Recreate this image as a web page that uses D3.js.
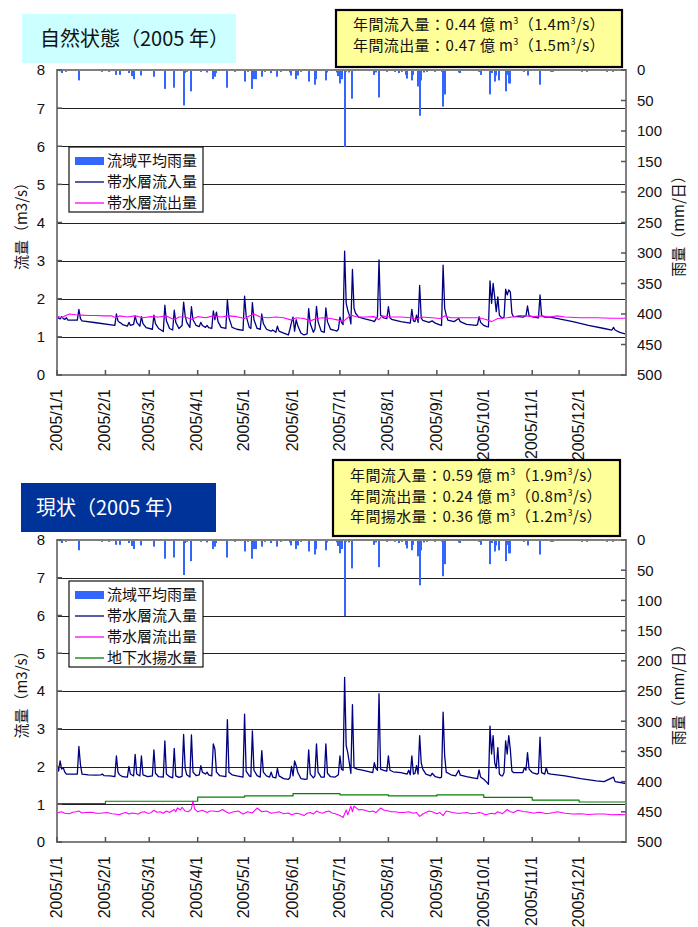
<!DOCTYPE html>
<html><head><meta charset="utf-8">
<script src="https://cdn.jsdelivr.net/npm/d3@7"></script>
<style>
body{margin:0;background:#fff}
svg{display:block}
.num{font-family:"Liberation Sans",Arial,sans-serif}
.jp{font-family:"Noto Sans CJK JP","Noto Sans",sans-serif}
</style>
</head><body>
<svg id="c" width="698" height="927"></svg>
<script>
// ---------------- data ----------------
const tickLabels = ["2005/1/1","2005/2/1","2005/3/1","2005/4/1","2005/5/1","2005/6/1",
  "2005/7/1","2005/8/1","2005/9/1","2005/10/1","2005/11/1","2005/12/1"];
const leftTicks = [0,1,2,3,4,5,6,7,8];
const rightTicks = [0,50,100,150,200,250,300,350,400,450,500];

// daily basin rainfall [day-of-year index, mm/day]
const rainfall = [[2,2],[3,5],[6,3],[14,17],[29,3],[33,3],[34,2],[38,8],[40,8],[46,5],[48,10],[49,15],
 [54,9],[62,11],[69,31],[75,29],[81,58],[82,5],[83,3],[86,35],[92,3],[96,4],[100,15],[101,11],[102,5],
 [109,29],[114,3],[120,19],[122,3],[125,31],[126,15],[127,15],[131,11],[133,3],[137,5],[141,11],[143,3],
 [149,4],[150,9],[153,15],[154,9],[156,3],[161,19],[165,24],[166,15],[172,17],[173,4],[179,4],[180,10],
 [181,22],[182,15],[184,126],[185,3],[187,4],[189,47],[203,8],[204,4],[206,45],[211,3],[216,3],[219,5],
 [221,3],[223,8],[224,14],[227,17],[228,8],[231,27],[232,75],[233,17],[235,4],[237,3],[242,3],[246,3],
 [247,60],[248,40],[257,4],[258,5],[270,3],[271,8],[277,40],[278,5],[280,19],[281,9],[283,17],[287,35],
 [288,8],[289,22],[290,22],[299,3],[301,9],[309,24],[316,3],[317,3],[336,3],[339,3],[352,3],[356,3]];

// natural state: aquifer inflow [day, m3/s]
const natInflow = [[0,1.53],[1,1.49],[2,1.47],[3,1.53],[4,1.48],[5,1.46],[6,1.50],[7,1.44],[13,1.44],[14,1.72],
 [15,1.48],[16,1.42],[25,1.37],[37,1.30],[38,1.60],[39,1.42],[40,1.38],[41,1.36],[42,1.32],[45,1.28],[46,1.38],
 [47,1.30],[49,1.33],[50,1.55],[51,1.38],[53,1.28],[54,1.53],[55,1.35],[57,1.24],[61,1.20],[62,1.57],[63,1.35],
 [65,1.22],[68,1.14],[69,1.83],[70,1.42],[72,1.22],[74,1.18],[75,1.70],[76,1.38],[78,1.22],[80,1.30],[81,1.91],
 [82,1.55],[83,1.38],[85,1.25],[86,1.79],[87,1.45],[89,1.30],[91,1.27],[92,1.38],[93,1.30],[95,1.25],[96,1.30],
 [97,1.24],[99,1.22],[100,1.68],[101,1.45],[102,1.65],[103,1.40],[105,1.25],[108,1.22],[109,1.98],[110,1.50],
 [112,1.25],[115,1.20],[119,1.17],[120,2.07],[121,1.55],[123,1.25],[124,1.22],[125,1.90],[126,1.45],[128,1.22],
 [130,1.20],[131,1.60],[132,1.35],[134,1.20],[137,1.15],[138,1.18],[140,1.12],[141,1.28],[142,1.15],[145,1.10],
 [148,1.05],[149,1.20],[150,1.38],[151,1.52],[152,1.15],[153,1.45],[154,1.30],[156,1.10],[158,1.05],[160,1.08],
 [161,1.74],[162,1.35],[164,1.12],[165,1.20],[166,1.80],[167,1.40],[169,1.15],[171,1.12],[172,1.76],[173,1.40],
 [175,1.20],[177,1.18],[179,1.15],[180,1.20],[181,1.52],[182,1.38],[183,1.32],[184,3.25],[185,1.88],[186,1.70],
 [187,1.57],[188,1.34],[189,2.77],[190,1.75],[191,1.62],[193,1.52],[197,1.47],[202,1.42],[203,1.40],[205,1.53],
 [206,3.02],[207,1.57],[209,1.50],[211,1.48],[212,1.79],[213,1.50],[214,1.46],[220,1.40],[226,1.36],[227,1.72],
 [228,1.42],[229,1.40],[230,1.57],[231,1.38],[232,2.35],[233,1.50],[234,1.43],[238,1.38],[240,1.42],[242,1.36],
 [244,1.33],[246,1.30],[247,2.88],[248,1.75],[249,1.57],[250,1.44],[254,1.40],[257,1.48],[258,1.40],[262,1.33],
 [268,1.30],[269,1.32],[270,1.53],[271,1.38],[273,1.30],[275,1.27],[276,1.26],[277,2.47],[278,1.88],[279,2.40],
 [280,2.05],[281,1.66],[282,2.05],[283,1.57],[284,1.52],[285,1.49],[286,1.52],[287,2.25],[288,2.10],[289,2.23],
 [290,2.18],[291,1.62],[292,1.53],[295,1.53],[298,1.52],[300,1.55],[301,1.81],[302,1.55],[305,1.52],[308,1.50],
 [309,2.10],[310,1.55],[312,1.52],[315,1.52],[318,1.50],[330,1.40],[340,1.30],[350,1.22],[355,1.18],[356,1.25],
 [357,1.18],[360,1.12],[364,1.07]];

// natural state: aquifer outflow
const natOutflow = [[0,1.55],[3,1.50],[5,1.55],[8,1.60],[12,1.58],[16,1.57],[20,1.56],[25,1.56],[30,1.55],[35,1.55],
 [38,1.50],[40,1.55],[45,1.52],[50,1.55],[55,1.50],[60,1.53],[65,1.52],[70,1.55],[75,1.45],[78,1.52],[82,1.52],
 [86,1.46],[90,1.53],[95,1.50],[100,1.55],[105,1.52],[110,1.55],[115,1.53],[120,1.48],[123,1.55],[126,1.60],
 [130,1.52],[135,1.50],[140,1.52],[145,1.50],[150,1.44],[153,1.50],[158,1.48],[162,1.42],[166,1.48],[170,1.50],
 [175,1.48],[180,1.44],[183,1.40],[185,1.47],[188,1.57],[192,1.52],[197,1.52],[203,1.53],[206,1.45],[208,1.55],
 [213,1.52],[220,1.52],[226,1.50],[230,1.46],[233,1.52],[240,1.50],[245,1.48],[248,1.55],[252,1.50],[260,1.50],
 [270,1.50],[275,1.45],[278,1.40],[282,1.48],[288,1.50],[292,1.53],[296,1.56],[300,1.55],[305,1.53],[310,1.55],
 [315,1.52],[320,1.55],[325,1.52],[335,1.50],[345,1.50],[355,1.49],[364,1.49]];

// current state: aquifer inflow
const curInflow = [[0,2.02],[1,1.88],[2,2.15],[3,1.93],[4,1.97],[5,1.85],[6,1.80],[13,1.80],[14,2.53],[15,2.05],
 [16,1.80],[20,1.78],[25,1.77],[28,1.78],[29,1.80],[30,1.76],[34,1.75],[37,1.73],[38,2.28],[39,1.85],[40,1.78],
 [42,1.73],[45,1.72],[46,2.00],[47,1.80],[49,1.75],[50,2.32],[51,1.80],[53,1.75],[54,2.28],[55,1.78],[58,1.73],
 [61,1.75],[62,2.44],[63,1.82],[65,1.73],[68,1.72],[69,2.68],[70,1.80],[72,1.73],[74,1.70],[75,2.48],[76,1.75],
 [78,1.71],[80,1.74],[81,2.85],[82,1.95],[83,1.78],[85,1.72],[86,2.84],[87,1.85],[89,1.76],[91,1.78],[92,2.02],
 [93,1.85],[95,1.80],[96,1.85],[97,1.78],[99,1.75],[100,2.60],[101,2.46],[102,1.85],[104,1.76],[108,1.73],
 [109,3.24],[110,1.85],[112,1.78],[115,1.75],[119,1.72],[120,3.39],[121,1.88],[123,1.75],[124,1.73],[125,2.94],
 [126,1.90],[128,1.76],[130,1.72],[131,2.42],[132,1.85],[134,1.75],[136,1.72],[137,1.85],[138,1.72],[140,1.70],
 [141,1.95],[142,1.75],[145,1.68],[148,1.66],[149,1.70],[150,2.00],[151,1.75],[152,2.15],[153,2.02],[154,1.85],
 [156,1.68],[159,1.66],[160,1.67],[161,2.44],[162,1.80],[164,1.70],[165,1.75],[166,2.60],[167,1.85],[169,1.72],
 [171,1.72],[172,2.60],[173,1.82],[175,1.73],[178,1.72],[180,1.78],[181,2.28],[182,1.93],[183,1.90],[184,4.36],
 [185,2.55],[186,2.37],[187,2.10],[188,1.82],[189,3.64],[190,1.97],[192,1.93],[196,1.90],[200,1.86],[202,1.84],
 [203,2.10],[204,1.95],[205,1.90],[206,3.93],[207,1.93],[209,1.90],[211,1.88],[212,2.28],[213,1.90],[215,1.86],
 [220,1.84],[224,1.80],[225,1.90],[226,1.78],[227,2.28],[228,1.80],[229,1.82],[230,2.02],[231,1.80],[232,2.82],
 [233,2.10],[234,1.93],[236,1.80],[239,1.75],[240,1.82],[242,1.73],[245,1.70],[246,1.72],[247,3.44],[248,2.28],
 [249,1.85],[252,1.78],[255,1.75],[257,1.90],[258,1.77],[262,1.73],[266,1.70],[269,1.68],[270,1.91],[271,1.72],
 [273,1.66],[275,1.58],[276,1.53],[277,3.07],[278,2.33],[279,2.82],[280,2.10],[281,1.95],[282,2.50],[283,1.80],
 [284,1.76],[285,1.75],[286,1.84],[287,2.68],[288,2.33],[289,2.82],[290,2.45],[291,1.88],[292,1.84],[296,1.84],
 [298,1.84],[299,1.97],[300,1.90],[301,2.37],[302,1.93],[304,1.84],[307,1.80],[308,1.82],[309,2.78],[310,1.84],
 [312,1.80],[313,1.97],[314,1.82],[316,1.80],[325,1.75],[335,1.68],[345,1.62],[350,1.60],[356,1.72],[357,1.60],
 [364,1.55]];

// current state: aquifer outflow
const curOutflow = [[0,0.77],[3,0.80],[5,0.76],[8,0.75],[10,0.79],[12,0.80],[14,0.82],[16,0.77],[18,0.78],[22,0.79],
 [25,0.76],[28,0.76],[32,0.78],[35,0.75],[37,0.74],[40,0.72],[42,0.76],[44,0.78],[46,0.74],[48,0.77],[52,0.74],
 [54,0.79],[56,0.80],[58,0.76],[60,0.77],[62,0.84],[64,0.79],[66,0.80],[68,0.76],[70,0.82],[72,0.78],[75,0.86],
 [76,0.80],[77,0.90],[79,0.85],[80,0.92],[82,0.82],[84,0.80],[86,0.88],[87,1.08],[88,0.88],[90,0.80],[93,0.84],
 [96,0.78],[98,0.82],[100,0.82],[103,0.80],[106,0.86],[108,0.80],[110,0.76],[113,0.80],[116,0.82],[119,0.74],
 [122,0.80],[125,0.77],[128,0.90],[131,0.80],[134,0.82],[137,0.76],[140,0.78],[142,0.80],[145,0.75],[148,0.77],
 [150,0.72],[153,0.76],[155,0.75],[158,0.70],[160,0.76],[162,0.78],[164,0.74],[166,0.82],[168,0.78],[170,0.76],
 [172,0.80],[174,0.82],[176,0.77],[178,0.75],[181,0.70],[183,0.65],[185,0.85],[186,0.72],[188,0.95],[189,0.80],
 [190,0.95],[193,0.85],[195,0.86],[197,0.84],[200,0.80],[202,0.82],[204,0.78],[207,0.90],[209,0.85],[212,0.82],
 [214,0.80],[216,0.80],[219,0.78],[222,0.78],[225,0.80],[228,0.76],[230,0.78],[232,0.68],[234,0.74],[236,0.78],
 [238,0.82],[240,0.80],[243,0.75],[245,0.78],[247,0.70],[249,0.82],[251,0.80],[253,0.78],[256,0.76],[258,0.76],
 [262,0.78],[265,0.75],[268,0.76],[270,0.78],[272,0.76],[274,0.72],[276,0.74],[278,0.76],[280,0.74],[282,0.80],
 [285,0.75],[288,0.86],[290,0.80],[292,0.78],[295,0.84],[298,0.81],[300,0.80],[303,0.78],[305,0.76],[308,0.79],
 [310,0.78],[313,0.75],[315,0.76],[318,0.78],[320,0.80],[325,0.76],[330,0.74],[335,0.75],[340,0.73],[345,0.74],
 [350,0.74],[355,0.72],[360,0.73],[364,0.72]];

// current state: groundwater pumping, monthly (m3/s)
const pumpMonthly = [1.02,1.08,1.08,1.19,1.22,1.28,1.25,1.22,1.25,1.18,1.11,1.06];

const natSummary = [
  ["年間流入量：0.44 億 m","3","（1.4m","3","/s）"],
  ["年間流出量：0.47 億 m","3","（1.5m","3","/s）"]];
const curSummary = [
  ["年間流入量：0.59 億 m","3","（1.9m","3","/s）"],
  ["年間流出量：0.24 億 m","3","（0.8m","3","/s）"],
  ["年間揚水量：0.36 億 m","3","（1.2m","3","/s）"]];

// ---------------- drawing ----------------
const svg = d3.select("#c");
const START = new Date(2005,0,1);
const dd = d => d3.timeDay.offset(START, d);
const L = 57, R = 626;
const x = d3.scaleTime().domain([START, new Date(2005,11,31)]).range([L, R]);
const monthTicks = d3.timeMonth.range(START, new Date(2006,0,1));

const C_RAIN="#3366ff", C_IN="#000080", C_OUT="#ff00ff", C_PUMP="#008000";

function panel(cfg){
  const T = cfg.top, B = cfg.bottom;
  const y = d3.scaleLinear().domain([0,8]).range([B,T]);
  const yr = d3.scaleLinear().domain([0,500]).range([T,B]);
  const g = svg.append("g");

  // gridlines
  g.append("g").selectAll("line").data(leftTicks.filter(v=>v>0&&v<8)).join("line")
    .attr("x1",L).attr("x2",R).attr("y1",d=>Math.round(y(d))+0.5).attr("y2",d=>Math.round(y(d))+0.5)
    .attr("stroke","#222").attr("stroke-width",1);

  // rain bars
  const clipId = "clip"+cfg.id;
  svg.append("clipPath").attr("id",clipId).append("rect").attr("x",L).attr("y",T).attr("width",R-L).attr("height",B-T);
  g.append("g").attr("clip-path",`url(#${clipId})`).selectAll("rect").data(rainfall).join("rect")
    .attr("x",d=>Math.round(x(dd(d[0]))-1)).attr("width",2)
    .attr("y",T).attr("height",d=>yr(d[1])-T).attr("fill",C_RAIN);

  // lines
  const line = d3.line().x(d=>x(dd(d[0]))).y(d=>y(d[1]));
  const lg = g.append("g").attr("clip-path",`url(#${clipId})`).attr("fill","none").attr("stroke-linejoin","round");
  lg.append("path").attr("d",line(cfg.inflow)).attr("stroke",C_IN).attr("stroke-width",1.3);
  lg.append("path").attr("d",line(cfg.outflow)).attr("stroke",C_OUT).attr("stroke-width",1.1);
  if(cfg.pump){
    const pts = pumpMonthly.map((v,i)=>[new Date(2005,i,1),v]);
    pts.push([new Date(2005,11,31),pumpMonthly[11]]);
    const pl = d3.line().x(d=>x(d[0])).y(d=>y(d[1])).curve(d3.curveStepAfter);
    lg.append("path").attr("d",pl(pts)).attr("stroke",C_PUMP).attr("stroke-width",1.2);
  }

  // frame
  g.append("rect").attr("x",L).attr("y",T).attr("width",R-L).attr("height",B-T)
    .attr("fill","none").attr("stroke","#808080").attr("stroke-width",2);

  // inward ticks
  const tk = g.append("g").attr("stroke","#555").attr("stroke-width",1.5);
  tk.selectAll(".lt").data(leftTicks).join("line").attr("x1",L).attr("x2",L+5)
    .attr("y1",d=>y(d)).attr("y2",d=>y(d));
  tk.selectAll(".rt").data(rightTicks).join("line").attr("x1",R-5).attr("x2",R)
    .attr("y1",d=>yr(d)).attr("y2",d=>yr(d));
  tk.selectAll(".bt").data(monthTicks).join("line").attr("x1",d=>x(d)).attr("x2",d=>x(d))
    .attr("y1",B-5).attr("y2",B);

  // tick labels
  g.append("g").selectAll("text").data(leftTicks).join("text").attr("class","num")
    .attr("x",45).attr("y",d=>y(d)).attr("dy","0.36em").attr("text-anchor","end")
    .attr("font-size",15).attr("fill","#111").text(d=>d);
  g.append("g").selectAll("text").data(rightTicks).join("text").attr("class","num")
    .attr("x",637).attr("y",d=>yr(d)).attr("dy","0.36em").attr("text-anchor","start")
    .attr("font-size",15).attr("fill","#111").text(d=>d);
  g.append("g").selectAll("text").data(monthTicks).join("text").attr("class","num")
    .attr("transform",d=>`translate(${x(d)-1},${B+14}) rotate(-90)`)
    .attr("dy","0.36em").attr("text-anchor","end").attr("font-size",16).attr("fill","#111")
    .text((d,i)=>tickLabels[i]);

  // axis titles
  const mid = (T+B)/2;
  g.append("text").attr("class","jp").attr("transform",`translate(22,${mid}) rotate(-90)`)
    .attr("text-anchor","middle").attr("dy","0.36em").attr("font-size",15).attr("fill","#111").text("流量（m3/s）");
  g.append("text").attr("class","jp").attr("transform",`translate(679,${mid}) rotate(-90)`)
    .attr("text-anchor","middle").attr("dy","0.36em").attr("font-size",15).attr("fill","#111").text("雨量（mm/日）");

  // legend
  const lgd = cfg.legend;
  const leg = g.append("g");
  leg.append("rect").attr("x",lgd.x).attr("y",lgd.y).attr("width",134).attr("height",lgd.items.length*21+2)
    .attr("fill","#fff").attr("stroke","#111").attr("stroke-width",1.2);
  lgd.items.forEach((it,i)=>{
    const cy = lgd.y + 14 + i*21;
    if(it.type==="bar") leg.append("rect").attr("x",lgd.x+6).attr("y",cy-4).attr("width",29).attr("height",8).attr("fill",it.color);
    else leg.append("line").attr("x1",lgd.x+6).attr("x2",lgd.x+35).attr("y1",cy).attr("y2",cy).attr("stroke",it.color).attr("stroke-width",1.3);
    leg.append("text").attr("class","jp").attr("x",lgd.x+38).attr("y",cy).attr("dy","0.36em")
      .attr("font-size",15).attr("fill","#111").text(it.label);
  });

  // title box
  const tb = cfg.title;
  g.append("rect").attr("x",tb.x).attr("y",tb.y).attr("width",tb.w).attr("height",tb.h).attr("fill",tb.fill);
  g.append("text").attr("class","jp").attr("x",tb.tx).attr("y",tb.y+tb.h/2).attr("dy","0.36em")
    .attr("font-size",20).attr("fill",tb.color).text(tb.text);

  // summary box
  const sb = cfg.summary;
  g.append("rect").attr("x",sb.x).attr("y",sb.y).attr("width",sb.w).attr("height",sb.h)
    .attr("fill","#ffff99").attr("stroke","#000").attr("stroke-width",2.2);
  sb.lines.forEach((ln,i)=>{
    const t = g.append("text").attr("class","jp").attr("x",sb.tx).attr("y",sb.ty+i*20.7)
      .attr("font-size",15).attr("letter-spacing",0.4).attr("fill","#111");
    ln.forEach((s,j)=>{
      const sp = t.append("tspan").text(s);
      if(j%2===1) sp.attr("font-size",9).attr("dy",-6);
      else if(j>0) sp.attr("dy",6);
    });
  });
}

panel({id:1, top:70, bottom:375, inflow:natInflow, outflow:natOutflow, pump:false,
  legend:{x:69,y:147,items:[{type:"bar",color:C_RAIN,label:"流域平均雨量"},
    {type:"line",color:C_IN,label:"帯水層流入量"},{type:"line",color:C_OUT,label:"帯水層流出量"}]},
  title:{x:22,y:14,w:214,h:49,fill:"#ccffff",color:"#111",tx:40,text:"自然状態（2005 年）"},
  summary:{x:336,y:10,w:286,h:57,tx:353,ty:30,lines:natSummary}});

panel({id:2, top:540, bottom:842, inflow:curInflow, outflow:curOutflow, pump:true,
  legend:{x:69,y:581,items:[{type:"bar",color:C_RAIN,label:"流域平均雨量"},
    {type:"line",color:C_IN,label:"帯水層流入量"},{type:"line",color:C_OUT,label:"帯水層流出量"},
    {type:"line",color:C_PUMP,label:"地下水揚水量"}]},
  title:{x:21,y:483,w:195,h:49,fill:"#003399",color:"#fff",tx:36,text:"現状（2005 年）"},
  summary:{x:333,y:460,w:287,h:76,tx:350,ty:481,lines:curSummary}});
</script>
</body></html>
